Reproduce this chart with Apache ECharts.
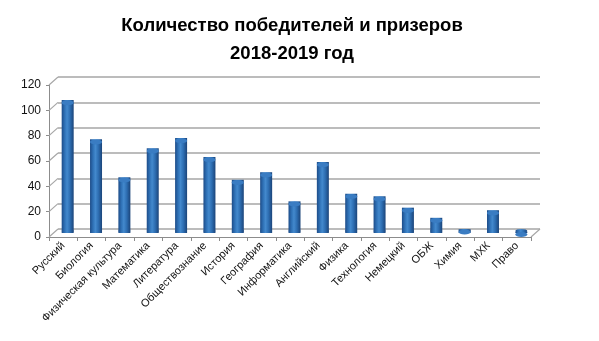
<!DOCTYPE html>
<html><head><meta charset="utf-8">
<script src="https://cdn.jsdelivr.net/npm/echarts@6/dist/echarts.min.js"></script>
<style>html,body{margin:0;padding:0;background:#fff}#c{width:599px;height:341px}</style>
</head><body><div id="c"></div>
<script>
const categories = ['Русский','Биология','Физическая культура','Математика','Литература','Обществознание','История','География','Информатика','Английский','Физика','Технология','Немецкий','ОБЖ','Химия','МХК','Право'];
const values = [105, 74, 44, 67, 75, 60, 42, 48, 25, 56, 31, 29, 20, 12, 3, 18, 1];
const yTicks = [0, 20, 40, 60, 80, 100, 120];
const titleText = 'Количество победителей и призеров\n2018-2019 год';

const FONT = 'Liberation Sans';
const L = 49, T = 85, W = 482, H = 152;
const DX = 9, DY = 8;

const barGrad = {type:'linear',x:0,y:0,x2:1,y2:0,colorStops:[
  {offset:0,color:'#1d4c88'},{offset:0.25,color:'#2f71b6'},{offset:0.45,color:'#4389cd'},
  {offset:0.7,color:'#2d6db1'},{offset:1,color:'#1b4479'}]};

const chart = echarts.init(document.getElementById('c'));
chart.setOption({
  animation:false,
  backgroundColor:'#fff',
  title:{text:titleText,left:287,textAlign:'center',top:7,
    textStyle:{fontFamily:FONT,fontSize:18.5,fontWeight:'bold',color:'#000',lineHeight:28}},
  grid:[
    {left:L,top:T,width:W,height:H},
    {left:L+DX,top:T-DY,width:W,height:H},
    {left:L+DX/2,top:T-DY/2,width:W,height:H}
  ],
  xAxis:[
    {gridIndex:0,type:'category',data:categories,
      axisLine:{lineStyle:{color:'#8c8c8c',width:1}},
      axisTick:{show:true,interval:0,length:4,lineStyle:{color:'#8c8c8c'}},
      axisLabel:{interval:0,rotate:45,fontFamily:FONT,fontSize:11,color:'#111',margin:7}},
    {gridIndex:1,type:'category',data:categories,show:false},
    {gridIndex:2,type:'category',data:categories,show:false}
  ],
  yAxis:[
    {gridIndex:0,type:'value',min:0,max:120,interval:20,
      axisLine:{show:true,lineStyle:{color:'#8c8c8c'}},
      axisTick:{show:true,length:3,lineStyle:{color:'#8c8c8c'}},
      axisLabel:{fontFamily:FONT,fontSize:12,color:'#111',margin:8},
      splitLine:{show:false}},
    {gridIndex:1,type:'value',min:0,max:120,interval:20,
      axisLine:{show:false},axisTick:{show:false},axisLabel:{show:false},
      splitLine:{show:true,lineStyle:{color:'#a6a6a6',width:1.5}}},
    {gridIndex:2,type:'value',min:0,max:120,interval:20,show:false,splitLine:{show:false}}
  ],
  series:[
    {type:'custom',xAxisIndex:0,yAxisIndex:0,silent:true,z:1,
      data:yTicks.map(v=>[0,v]),
      renderItem:function(params,api){
        const cs = params.coordSys;
        const y = api.coord([0, api.value(1)])[1];
        const children = [{type:'line',shape:{x1:cs.x,y1:y,x2:cs.x+DX,y2:y-DY},
          style:{stroke:'#a6a6a6',lineWidth:1.2}}];
        if (api.value(1) === 0) {
          children.push({type:'line',shape:{x1:cs.x+cs.width,y1:y,x2:cs.x+cs.width+DX,y2:y-DY},
            style:{stroke:'#a6a6a6',lineWidth:1.2}});
        }
        return {type:'group',children:children};
      }},
    {type:'pictorialBar',xAxisIndex:2,yAxisIndex:2,data:values.map(()=>0),
      symbol:'circle',symbolSize:[12,4],symbolPosition:'start',barWidth:12,barGap:'-100%',
      itemStyle:{color:barGrad},z:3,silent:true},
    {type:'bar',xAxisIndex:2,yAxisIndex:2,data:values,barWidth:12,
      itemStyle:{color:barGrad},z:4,silent:true},
    {type:'pictorialBar',xAxisIndex:2,yAxisIndex:2,data:values,
      symbol:'circle',symbolSize:[12,5],symbolPosition:'end',barWidth:12,barGap:'-100%',
      itemStyle:{color:'#3a7cc2',borderColor:'#1d4b86',borderWidth:0.8},z:5,silent:true}
  ]
});
</script></body></html>
